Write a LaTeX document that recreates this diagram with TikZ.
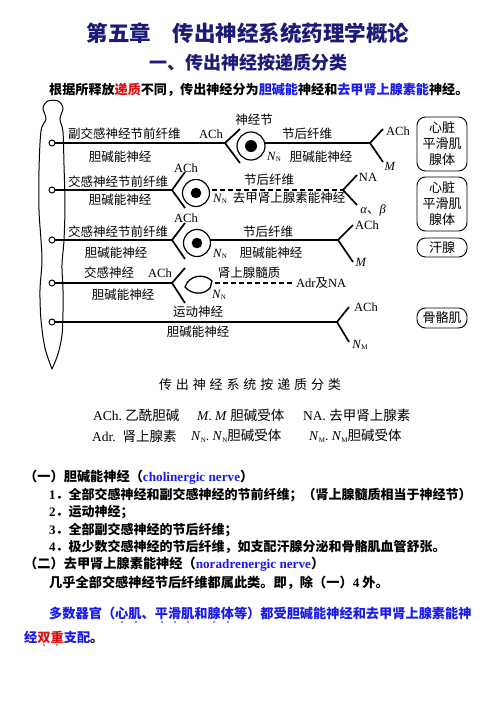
\documentclass[tikz,border=0pt]{standalone}
\usepackage{fontspec}
\setmainfont{Liberation Serif}
\newfontfamily\cj{Noto Sans CJK SC}
\definecolor{navy}{HTML}{1C1C78}
\definecolor{tblue}{HTML}{1A1AF0}
\definecolor{tred}{HTML}{E01010}
\newcommand\myNN{\textit{N}\raisebox{-0.3ex}{\fontsize{7}{7}\selectfont N}}
\newcommand\myNM{\textit{N}\raisebox{-0.3ex}{\fontsize{7}{7}\selectfont M}}
\tikzset{
  lab/.style={inner sep=0pt, font=\cj\fontsize{12.5}{14}\selectfont},
  lat/.style={inner sep=0pt, font=\fontsize{12.5}{14}\selectfont},
  nerve/.style={line width=2pt},
  arm/.style={line width=1.7pt},
  dashnerve/.style={line width=2pt, dash pattern=on 5pt off 3pt},
  organ/.style={draw, rounded corners=8.5pt, line width=0.9pt, minimum width=50pt, inner sep=0pt, align=center, font=\cj\fontsize{13}{16}\selectfont},
  body/.style={anchor=west, inner sep=0pt, font=\cj\bfseries\fontsize{13.2}{15}\selectfont},
  legend/.style={anchor=west, inner sep=0pt, font=\fontsize{13.5}{15}\selectfont},
  cordpt/.style={circle, draw, fill=white, line width=1pt, minimum size=6pt, inner sep=0pt},
  gang/.style={circle, draw, fill=white, line width=1.2pt, inner sep=0pt},
}
\begin{document}
\begin{tikzpicture}[x=1pt,y=-1pt]
\useasboundingbox[fill=white] (0,0) rectangle (496,702);

% ---------- headings ----------
\node[inner sep=0pt, text=navy, font=\cj\bfseries\fontsize{21.5}{24}\selectfont] (title) at (248,33) {第五章　传出神经系统药理学概论};
\node[inner sep=0pt, text=navy, font=\cj\bfseries\fontsize{18}{20}\selectfont] (sub) at (248,63) {一、传出神经按递质分类};
\node[body, font=\cj\bfseries\fontsize{13.1}{15}\selectfont] (intro) at (49,90) {根据所释放{\color{tred}递质}不同，传出神经分为{\color{tblue}胆碱能}神经和{\color{tblue}去甲肾上腺素能}神经。};

% ---------- spinal cord ----------
\draw[line width=1pt] plot[smooth, tension=0.55] coordinates {(52,369) (58,354) (62,335) (63,312) (63,290) (62,265) (64,240) (65,205) (64,165) (63,132) (60,119) (63,108) (58,101) (48,101) (43,108) (46,119) (41,131) (39,170) (39,210) (41,240) (42,262) (40,290) (41,320) (45,348) (52,369)};

% coordinates
\coordinate (c1) at (52,143); \coordinate (c2) at (52,190); \coordinate (c3) at (52,240);
\coordinate (c4) at (52,283); \coordinate (c5) at (52,322);
\coordinate (v1) at (225,143); \coordinate (u1) at (240,129); \coordinate (d1) at (240,163);
\coordinate (v2) at (172,190); \coordinate (u2) at (185,172); \coordinate (d2) at (185,208);
\coordinate (v3) at (172,240); \coordinate (u3) at (185,223); \coordinate (d3) at (185,259);
\coordinate (v4) at (172,283); \coordinate (u4) at (185,268); \coordinate (d4) at (185,303);
\coordinate (p1) at (251,143); \coordinate (w1) at (370,143); \coordinate (x1) at (383,129); \coordinate (y1) at (383,162);
\coordinate (p2) at (196,190); \coordinate (w2) at (343,190); \coordinate (x2) at (357,175); \coordinate (y2) at (357,205);
\coordinate (p3) at (197,240); \coordinate (w3) at (338,240); \coordinate (x3) at (353,225); \coordinate (y3) at (353,262);
\coordinate (m1) at (215,283); \coordinate (m2) at (293,283);
\coordinate (w5) at (337,322); \coordinate (x5) at (349,307); \coordinate (y5) at (349,342);

% preganglionic lines
\draw[nerve] (c1) -- (v1);
\draw[nerve] (c2) -- (v2);
\draw[nerve] (c3) -- (v3);
\draw[nerve] (c4) -- (v4);
\draw[nerve] (c5) -- (w5);
\draw[arm] (u1) -- (v1) -- (d1);
\draw[arm] (u2) -- (v2) -- (d2);
\draw[arm] (u3) -- (v3) -- (d3);
\draw[arm] (u4) -- (v4) -- (d4);

% postganglionic lines
\draw[nerve] (p1) -- (w1);
\draw[dashnerve] (p2) -- (w2);
\draw[nerve] (p3) -- (w3);
\draw[dashnerve] (m1) -- (m2);
\draw[arm] (x1) -- (w1) -- (y1);
\draw[arm] (x2) -- (w2) -- (y2);
\draw[arm] (x3) -- (w3) -- (y3);
\draw[arm] (x5) -- (w5) -- (y5);

% ganglia
\node[gang, minimum size=28pt] (g1) at (251,146) {};
\fill (g1.center) circle (6);
\node[gang, minimum size=27pt] (g2) at (196,193) {};
\fill (g2.center) circle (5.3);
\node[gang, minimum size=27pt] (g3) at (197,243) {};
\fill (g3.center) circle (5.3);
% adrenal medulla
\draw[line width=1.3pt, fill=white] (185,287) .. controls (189,275) and (204,273) .. (212,281) -- (210,288) .. controls (204,295) and (192,295) .. (185,287) -- cycle;

% cord points
\foreach \c in {c1,c2,c3,c4,c5} \node[cordpt] at (\c) {};

% ---------- labels row 1 ----------
\node[lab, anchor=west] (r1a) at (68,134) {副交感神经节前纤维};
\node[lat] (r1b) at (211,134) {ACh};
\node[lab] (r1c) at (120,157) {胆碱能神经};
\node[lab] (r1d) at (254,120) {神经节};
\node[lab] (r1e) at (307,134) {节后纤维};
\node[lat] (r1f) at (274,157) {\myNN};
\node[lab] (r1g) at (321,157) {胆碱能神经};
\node[lat] (r1h) at (398,131) {ACh};
\node[lat] (r1i) at (390,166) {\textit{M}};

% ---------- labels row 2 ----------
\node[lab, anchor=west] (r2a) at (68,182) {交感神经节前纤维};
\node[lat] (r2b) at (186,168) {ACh};
\node[lab] (r2c) at (120,200) {胆碱能神经};
\node[lat] (r2d) at (220,199) {\myNN};
\node[lab] (r2e) at (289,198) {去甲肾上腺素能神经};
\node[lab] (r2f) at (269,180) {节后纤维};
\node[lat] (r2g) at (368,177) {NA};
\node[lat] (r2h) at (373,210) {\textit{α}{\cj 、}\textit{β}};

% ---------- labels row 3 ----------
\node[lab, anchor=west] (r3a) at (68,232) {交感神经节前纤维};
\node[lat] (r3b) at (186,218) {ACh};
\node[lab] (r3c) at (116,253) {胆碱能神经};
\node[lat] (r3d) at (220,254) {\myNN};
\node[lab] (r3e) at (268,232) {节后纤维};
\node[lab] (r3f) at (271,253) {胆碱能神经};
\node[lat] (r3g) at (367,225) {ACh};
\node[lat] (r3h) at (361,262) {\textit{M}};

% ---------- labels row 4 ----------
\node[lab] (r4a) at (109,273) {交感神经};
\node[lat] (r4b) at (160,273) {ACh};
\node[lab] (r4c) at (123,295) {胆碱能神经};
\node[lat] (r4d) at (219,295) {\myNN};
\node[lab] (r4e) at (249,273) {肾上腺髓质};
\node[lat, anchor=west] (r4f) at (296,283) {Adr{\cj 及}NA};

% ---------- labels row 5 ----------
\node[lab] (r5a) at (198,312) {运动神经};
\node[lab] (r5b) at (198,332) {胆碱能神经};
\node[lat] (r5c) at (366,307) {ACh};
\node[lat] (r5d) at (360,345) {\myNM};

% ---------- organs ----------
\node[organ, minimum height=54pt] (o1) at (442,144) {心脏\\平滑肌\\腺体};
\node[organ, minimum height=54pt] (o2) at (442,204) {心脏\\平滑肌\\腺体};
\node[organ, minimum height=19pt] (o3) at (442,247.5) {汗腺};
\node[organ, minimum height=20pt] (o4) at (442,318) {骨骼肌};

% ---------- caption & legend ----------
\node[inner sep=0pt, font=\cj\fontsize{13}{15}\selectfont\addfontfeature{LetterSpace=30}] (cap) at (250,385) {传出神经系统按递质分类};
\node[legend] (l1) at (93,415) {ACh.\ {\cj 乙酰胆碱}};
\node[legend] (l2) at (197,415) {\textit{M}.\ \textit{M}\ {\cj 胆碱受体}};
\node[legend] (l3) at (303,415) {NA.\ {\cj 去甲肾上腺素}};
\node[legend] (l4) at (92,436) {Adr.\ \ {\cj 肾上腺素}};
\node[legend] (l5) at (191,436) {\myNN.\ \myNN{\cj 胆碱受体}};
\node[legend] (l6) at (309,436) {\myNM.\ \myNM{\cj 胆碱受体}};

% ---------- body text ----------
\node[body] (t1) at (24,477) {（一）胆碱能神经（{\rmfamily\color{tblue}cholinergic nerve}）};
\node[body, font=\cj\bfseries\fontsize{13}{15}\selectfont] (t2) at (49,495) {{\rmfamily 1}．全部交感神经和副交感神经的节前纤维；（肾上腺髓质相当于神经节）};
\node[body, font=\cj\bfseries\fontsize{13}{15}\selectfont] (t3) at (49,512) {{\rmfamily 2}．运动神经；};
\node[body, font=\cj\bfseries\fontsize{13}{15}\selectfont] (t4) at (49,530) {{\rmfamily 3}．全部副交感神经的节后纤维；};
\node[body, font=\cj\bfseries\fontsize{13}{15}\selectfont] (t5) at (49,547) {{\rmfamily 4}．极少数交感神经的节后纤维，如支配汗腺分泌和骨骼肌血管舒张。};
\node[body] (t6) at (24,564) {（二）去甲肾上腺素能神经（{\rmfamily\color{tblue}noradrenergic nerve}）};
\node[body] (t7) at (49,583) {几乎全部交感神经节后纤维都属此类。即，除（一）{\rmfamily 4} 外。};
\node[body, text=tblue] (t8) at (49,613) {多数器官（心肌、平滑肌和腺体等）都受胆碱能神经和去甲肾上腺素能神};
\node[body, text=tblue] (t9) at (24,637) {经{\color{tred}双重}支配{\color{black}。}};
% emphasis dots
\foreach \x in {122,136,162,175,188,214,228} \fill[tblue] (\x,622) circle (0.8);
\foreach \x in {44,57} \fill[tred] (\x,645) circle (0.8);
\end{tikzpicture}
\end{document}
